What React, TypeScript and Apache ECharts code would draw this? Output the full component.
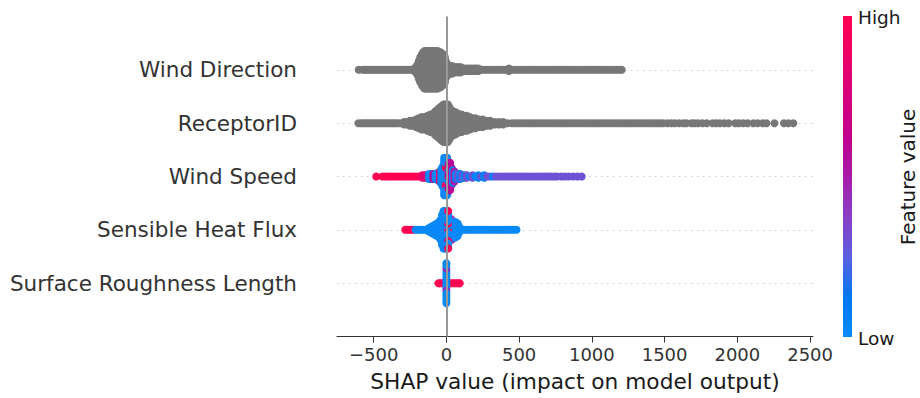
import React, { useEffect, useRef } from 'react';
import * as echarts from 'echarts';

// Rows from bottom (index 0) to top (index 4)
const features = ['Surface Roughness Length', 'Sensible Heat Flux', 'Wind Speed', 'ReceptorID', 'Wind Direction'];
const xTicks = [-500, 0, 500, 1000, 1500, 2000, 2500];
const rowTicks = [0, 1, 2, 3, 4];

// ---- Wind Direction (grey) : SHAP bin centre + number of dots stacked in that bin
const windDirShap = [
  -603, -575, -560, -545, -530, -515, -500, -485, -470, -455, -440, -425, -410, -395, -380, -365, -350, -335, -320, -305, -290, -275, -260, -245,
  -230, -220, -212, -200, -190, -180, -170, -160, -150, -140, -130, -120, -110, -100, -90, -80, -70, -60, -50, -40, -30, -20, -10, 0, 10, 20,
  30, 40, 50, 60, 70, 80, 90, 100, 115, 130, 145, 160, 175, 190, 205, 220, 235,
  250, 270, 290, 310, 330, 350, 370, 390, 410, 430, 450, 470, 490, 510, 530, 550, 570, 590, 610, 630, 650, 670, 690, 710, 730, 750, 770, 790, 810, 830, 850, 870, 890, 910, 930, 950, 970, 990, 1010, 1030, 1050, 1070, 1090, 1110, 1130, 1150, 1170, 1190, 1205,
];
const windDirCount = [
  1, 1, 1, 1, 1, 1, 1, 1, 1, 1, 1, 1, 1, 1, 1, 1, 1, 1, 1, 1, 1, 1, 1, 1,
  1, 2, 3, 5, 8, 11, 13, 15, 16, 16, 16, 16, 16, 16, 16, 16, 16, 16, 15, 15, 14, 13, 11, 7, 5, 4,
  4, 4, 3, 3, 3, 3, 3, 3, 2, 2, 2, 2, 2, 2, 2, 2, 1,
  1, 1, 1, 1, 1, 1, 1, 1, 1, 2, 1, 1, 1, 1, 1, 1, 1, 1, 1, 1, 1, 1, 1, 1, 1, 1, 1, 1, 1, 1, 1, 1, 1, 1, 1, 1, 1, 1, 1, 1, 1, 1, 1, 1, 1, 1, 1, 1, 1,
];

// ---- ReceptorID (grey)
const receptorShap = [
  -605, -585, -570, -555, -540, -525, -510, -495, -480, -465, -450, -435, -420, -405, -390, -375, -360, -345, -330,
  -310, -290, -270, -250, -230, -210, -190, -170, -150, -130, -110, -95, -80, -70, -60, -50, -40, -30, -20, -10, 0, 10, 20, 30, 40, 50, 60, 75, 90, 105, 120, 140, 160, 180, 200, 225, 250, 275, 300, 330, 360, 390, 420, 450,
  470, 490, 510, 530, 550, 570, 590, 610, 630, 650, 670, 690, 710, 730, 750, 770, 790, 810, 830, 850, 870, 890, 910, 930, 950, 970, 990, 1010, 1030, 1050, 1070, 1090, 1110, 1130, 1150, 1170, 1190, 1210, 1230, 1250, 1270, 1290, 1310, 1330, 1350, 1370,
  1390, 1410, 1430, 1450, 1470, 1490, 1520, 1545, 1570, 1600, 1630, 1650, 1685, 1705, 1730, 1760, 1790, 1830, 1855, 1880, 1910, 1940, 1985, 2010, 2040, 2070, 2110, 2140, 2175, 2200, 2255, 2320, 2350, 2385,
];
const receptorCount = [
  1, 1, 1, 1, 1, 1, 1, 1, 1, 1, 1, 1, 1, 1, 1, 1, 1, 1, 1,
  1, 2, 2, 3, 3, 4, 5, 6, 6, 7, 8, 8, 10, 11, 12, 13, 14, 15, 16, 16, 16, 16, 14, 12, 11, 10, 10, 9, 8, 8, 7, 7, 6, 5, 5, 4, 4, 3, 3, 2, 2, 2, 1, 1,
  1, 1, 1, 1, 1, 1, 1, 1, 1, 1, 1, 1, 1, 1, 1, 1, 1, 1, 1, 1, 1, 1, 1, 1, 1, 1, 1, 1, 1, 1, 1, 1, 1, 1, 1, 1, 1, 1, 1, 1, 1, 1, 1, 1, 1, 1,
  1, 1, 1, 1, 1, 1, 1, 1, 1, 1, 1, 1, 1, 1, 1, 1, 1, 1, 1, 1, 1, 1, 1, 1, 1, 1, 1, 1, 1, 1, 1, 1, 1, 1,
];

// ---- Wind Speed : SHAP bin, dots in bin, feature value (0 low .. 1 high)
const windSpeedShap = [
  -482, -440, -420, -400, -380, -360, -340, -320, -300, -280, -260, -240, -220, -200, -180, -165, -150, -135,
  -120, -105, -90, -75, -60, -45, -35, -25, -15, 5, -5, -5, -5, 15, 15, 15, 25, 25, 35, 45, 55, 65,
  80, 95, 110, 125, 140, 160, 180, 200, 220, 240, 260, 280, 300, 320, 340, 360,
  380, 400, 420, 440, 460, 480, 500, 520, 540, 560, 580, 600, 620, 640, 660, 680, 700, 720, 740, 760,
  790, 815, 840, 870, 900, 930,
];
const windSpeedCount = [
  1, 1, 1, 1, 1, 1, 1, 1, 1, 1, 1, 1, 1, 1, 1, 2, 2, 2,
  3, 3, 3, 3, 4, 5, 7, 9, 16, 16, 6, 4, 4, 4, 3, 4, 6, 6, 8, 6, 5, 3,
  3, 3, 2, 2, 2, 1, 2, 1, 2, 1, 2, 1, 1, 1, 1, 1,
  1, 1, 1, 1, 1, 1, 1, 1, 1, 1, 1, 1, 1, 1, 1, 1, 1, 1, 1, 1,
  1, 1, 1, 1, 1, 1,
];
const windSpeedFeat = [
  1, 1, 1, 1, 1, 1, 1, 1, 1, 1, 1, 1, 1, 1, 0.95, 0.9, 0.75, 0.85,
  0.05, 0.02, 0.6, 0.05, 0.02, 0.9, 0.02, 0.03, 0.03, 0.05, 0.02, 1, 0.02, 0.65, 0.02, 0.7, 0.95, 0.6, 0.55, 0.05, 0.5, 0.05,
  0.3, 0.05, 0.3, 0.05, 0.3, 0.05, 0.3, 0.05, 0.05, 0.3, 0.05, 0.3, 0.3, 0.05, 0.3, 0.3,
  0.3, 0.3, 0.3, 0.3, 0.3, 0.3, 0.3, 0.3, 0.3, 0.3, 0.3, 0.3, 0.3, 0.3, 0.3, 0.3, 0.3, 0.3, 0.3, 0.3,
  0.3, 0.3, 0.3, 0.3, 0.3, 0.3,
];

// ---- Sensible Heat Flux
const heatShap = [
  -283, -265, -248, -230,
  -212, -195, -178, -160, -142, -125, -110, -95, -80, -65, -52, -40, -30, -20, -10, 0,
  25, 35, 45, 55, 65, 78, 90,
  12, 12, 12, 12, 12, 12, 12, 12,
  100, 120, 140, 160, 180, 200, 220, 240, 260, 280, 300, 320, 340, 360, 380, 400, 420, 440, 460, 482,
];
const heatCount = [
  1, 1, 1, 1,
  1, 1, 1, 1, 1, 2, 3, 4, 5, 6, 7, 9, 13, 16, 16, 16,
  10, 9, 8, 7, 7, 6, 3,
  1, 1, 2, 1, 4, 1, 4, 2,
  1, 1, 1, 1, 1, 1, 1, 1, 1, 1, 1, 1, 1, 1, 1, 1, 1, 1, 1, 1,
];
const heatFeat = [
  1, 1, 1, 1,
  0.02, 0.02, 0.02, 0.02, 0.02, 0.02, 0.02, 0.02, 0.02, 0.02, 0.02, 0.02, 0.02, 0.02, 0.02, 0.05,
  0.4, 0.45, 0.35, 0.02, 0.02, 0.02, 0.02,
  0.02, 1, 0.02, 1, 0.02, 1, 0.02, 1,
  0.02, 0.02, 0.02, 0.02, 0.02, 0.02, 0.02, 0.02, 0.02, 0.02, 0.02, 0.02, 0.02, 0.02, 0.02, 0.02, 0.02, 0.02, 0.02, 0.02,
];

// ---- Surface Roughness Length
const roughShap = [-55, -42, -28, -15, 15, 28, 42, 56, 70, 84, 92, 0, 0, 0, 0, 0];
const roughCount = [1, 1, 1, 1, 1, 1, 1, 1, 1, 1, 1, 6, 1, 4, 1, 5];
const roughFeat = [1, 1, 1, 1, 1, 1, 1, 1, 1, 1, 1, 0.02, 0.45, 0.02, 0.5, 0.02];

// ---- styling / layout constants
const FONT = 'DejaVu Sans';
const GRAY = '#777777';
const GRID = { left: 337, right: 107, top: 16.5, bottom: 61.5 };
const PLOT_H = 398 - GRID.top - GRID.bottom;
const ROW_PX = PLOT_H / 6;
const DOT_GAP = 2.5;
const cmapStops: [number, number[]][] = [
  [0, [10, 140, 250]],
  [0.12, [0, 119, 240]],
  [0.25, [92, 95, 224]],
  [0.38, [138, 61, 196]],
  [0.5, [168, 26, 168]],
  [0.62, [192, 0, 144]],
  [0.8, [222, 0, 115]],
  [1, [255, 0, 82]],
];

function cmap(t: number): string {
  for (let i = 1; i < cmapStops.length; i++) {
    const [t1, c1] = cmapStops[i];
    const [t0, c0] = cmapStops[i - 1];
    if (t <= t1) {
      const f = (t - t0) / (t1 - t0 || 1);
      const c = c0.map((v, k) => Math.round(v + (c1[k] - v) * f));
      return `rgb(${c[0]},${c[1]},${c[2]})`;
    }
  }
  const c = cmapStops[cmapStops.length - 1][1];
  return `rgb(${c[0]},${c[1]},${c[2]})`;
}

function swarm(row: number, xs: number[], ns: number[], cs?: number[]) {
  const totals = new Map<number, number>();
  xs.forEach((x, i) => totals.set(x, (totals.get(x) || 0) + ns[i]));
  const used = new Map<number, number>();
  const out: any[] = [];
  xs.forEach((x, i) => {
    const N = totals.get(x) as number;
    for (let k = 0; k < ns[i]; k++) {
      const j = used.get(x) || 0;
      used.set(x, j + 1);
      let slot: number;
      if (N % 2 === 1) {
        const m = Math.ceil(j / 2);
        slot = j === 0 ? 0 : j % 2 === 1 ? m : -m;
      } else {
        const m = Math.floor(j / 2) + 0.5;
        slot = j % 2 === 0 ? m : -m;
      }
      out.push({
        value: [x, row + (slot * DOT_GAP) / ROW_PX],
        itemStyle: { color: cs ? cmap(cs[i]) : GRAY },
      });
    }
  });
  return out;
}

export default function App() {
  const ref = useRef<HTMLDivElement>(null);
  useEffect(() => {
    if (!ref.current) return;
    const chart = echarts.init(ref.current, undefined, { renderer: 'svg' });
    const dotSeries = (data: any[]) => ({
      type: 'scatter',
      data,
      symbolSize: 8,
      z: 3,
      silent: true,
      itemStyle: { opacity: 1 },
    });
    const gradStops = cmapStops
      .map(([t, c]) => ({ offset: 1 - t, color: `rgb(${c[0]},${c[1]},${c[2]})` }))
      .reverse();
    const clear = 'rgba(0,0,0,0)';
    const option: any = {
      animation: false,
      backgroundColor: '#ffffff',
      grid: { ...GRID, containLabel: false },
      xAxis: {
        type: 'value',
        min: -752,
        max: 2520,
        axisLine: { show: true, onZero: false, lineStyle: { color: '#333333', width: 1 } },
        axisTick: { show: true, customValues: xTicks, length: 6, lineStyle: { color: '#333333', width: 1 } },
        axisLabel: {
          customValues: xTicks,
          color: '#333333',
          fontSize: 18,
          fontFamily: FONT,
          margin: 9,
          formatter: (v: number) => (v < 0 ? '\u2212' + Math.abs(v) : String(v)),
        },
        splitLine: { show: false },
        name: 'SHAP value (impact on model output)',
        nameLocation: 'middle',
        nameGap: 34,
        nameTextStyle: { fontSize: 21.7, fontFamily: FONT, color: '#1a1a1a' },
      },
      yAxis: {
        type: 'value',
        min: -1,
        max: 5,
        interval: 1,
        axisLine: { show: false, onZero: false },
        axisTick: { show: false },
        splitLine: {
          show: true,
          lineStyle: { color: [clear, '#cccccc', '#cccccc', '#cccccc', '#cccccc', '#cccccc', clear], width: 1, type: [1.5, 4.5] },
        },
        axisLabel: {
          customValues: rowTicks,
          formatter: (v: number) => features[Math.round(v)] ?? '',
          color: '#333333',
          fontSize: 21.5,
          fontFamily: FONT,
          margin: 40,
        },
      },
      series: [
        {
          type: 'scatter',
          data: [],
          z: 1,
          silent: true,
          markLine: {
            silent: true,
            symbol: ['none', 'none'],
            label: { show: false },
            animation: false,
            data: [{ xAxis: 0, lineStyle: { color: '#999999', width: 2, type: 'solid' } }],
          },
        },
        dotSeries(swarm(4, windDirShap, windDirCount)),
        dotSeries(swarm(3, receptorShap, receptorCount)),
        dotSeries(swarm(2, windSpeedShap, windSpeedCount, windSpeedFeat)),
        dotSeries(swarm(1, heatShap, heatCount, heatFeat)),
        dotSeries(swarm(0, roughShap, roughCount, roughFeat)),
      ],
      graphic: [
        {
          type: 'rect',
          shape: { x: 843, y: 16, width: 9, height: 321 },
          style: { fill: new echarts.graphic.LinearGradient(0, 0, 0, 1, gradStops) },
          silent: true,
        },
        {
          type: 'text',
          x: 858,
          y: 17,
          style: { text: 'High', fontSize: 18.5, fontFamily: FONT, fill: '#1a1a1a', verticalAlign: 'middle', align: 'left' },
        },
        {
          type: 'text',
          x: 858,
          y: 338,
          style: { text: 'Low', fontSize: 18.5, fontFamily: FONT, fill: '#1a1a1a', verticalAlign: 'middle', align: 'left' },
        },
        {
          type: 'text',
          x: 908,
          y: 177,
          rotation: Math.PI / 2,
          style: { text: 'Feature value', fontSize: 20, fontFamily: FONT, fill: '#1a1a1a', verticalAlign: 'middle', align: 'center' },
        },
      ],
    };
    chart.setOption(option);
    return () => chart.dispose();
  }, []);
  return <div ref={ref} style={{ position: 'fixed', left: 0, top: 0, width: 920, height: 398 }} />;
}
